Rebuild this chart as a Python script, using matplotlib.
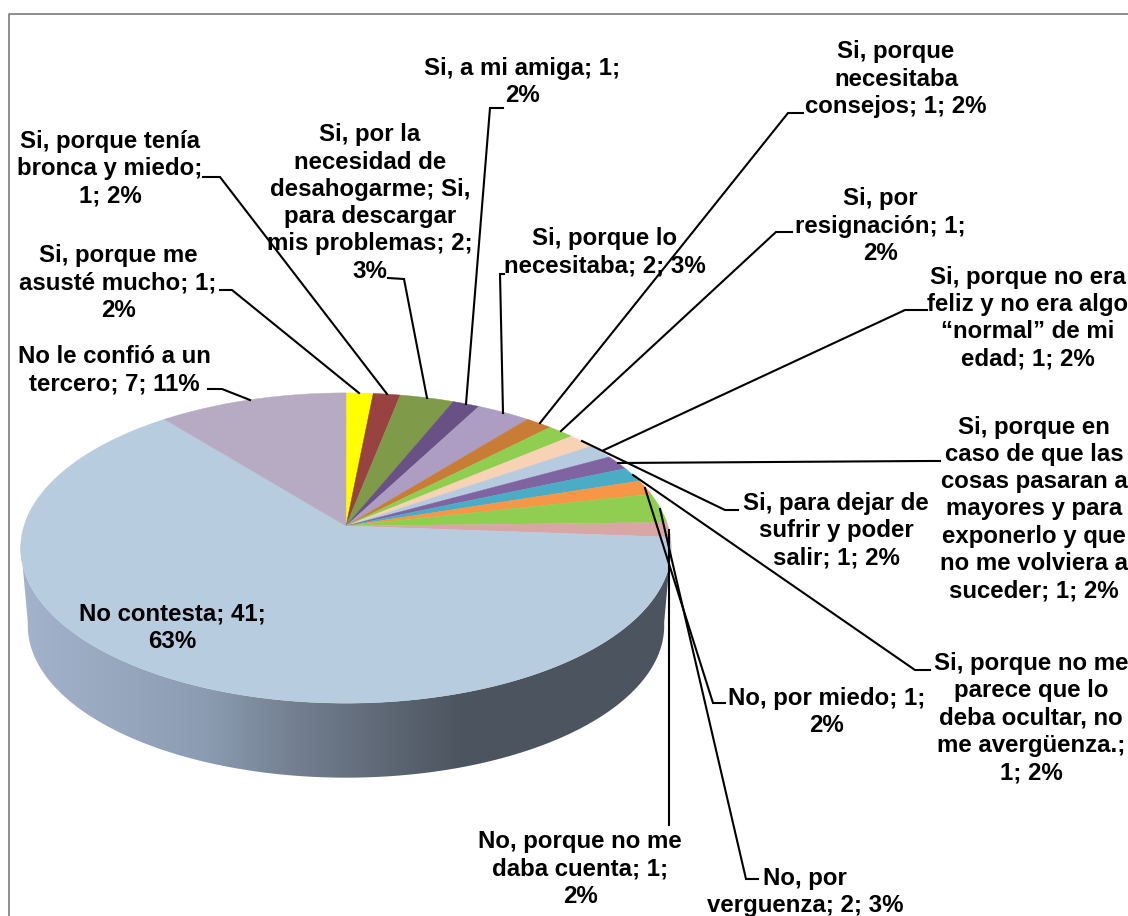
import numpy as np
import matplotlib
matplotlib.use('Agg')
import matplotlib.pyplot as plt
from matplotlib.colors import LinearSegmentedColormap
from matplotlib.patches import Polygon

plt.rcParams['font.family'] = ['Liberation Sans', 'DejaVu Sans']

# slices, clockwise from the top
labels = [
    'Si, porque me\nasusté mucho; 1;\n2%',
    'Si, porque tenía\nbronca y miedo;\n1; 2%',
    'Si, por la\nnecesidad de\ndesahogarme; Si,\npara descargar\nmis problemas; 2;\n3%',
    'Si, a mi amiga; 1;\n2%',
    'Si, porque lo\nnecesitaba; 2; 3%',
    'Si, porque\nnecesitaba\nconsejos; 1; 2%',
    'Si, por\nresignación; 1;\n2%',
    'Si, porque no era\nfeliz y no era algo\n“normal” de mi\nedad; 1; 2%',
    'Si, porque en\ncaso de que las\ncosas pasaran a\nmayores y para\nexponerlo y que\nno me volviera a\nsuceder; 1; 2%',
    'Si, para dejar de\nsufrir y poder\nsalir; 1; 2%',
    'Si, porque no me\nparece que lo\ndeba ocultar, no\nme avergüenza.;\n1; 2%',
    'No, por miedo; 1;\n2%',
    'No, por\nverguenza; 2; 3%',
    'No, porque no me\ndaba cuenta; 1;\n2%',
    'No contesta; 41;\n63%',
    'No le confió a un\ntercero; 7; 11%',
]
values = [1, 1, 2, 1, 2, 1, 1, 1, 1, 1, 1, 1, 2, 1, 41, 7]
colors = ['#ffff00', '#984341', '#7f9a48', '#695185', '#ae9dc2', '#c97c36',
          '#8fce50', '#f8d2b5', '#b7cbe0', '#8064a2', '#4bacc6', '#f79646',
          '#8fce50', '#d9a6a6', '#b8cce0', '#b7abc4']

# label centres in pixels
label_pos = [(118, 283), (110, 169), (370, 203), (522, 82), (605, 252), (896, 79),
             (880, 226), (1028, 318), (1034, 509), (836, 531), (1031, 718),
             (827, 712), (805, 892), (580, 869), (172, 628), (114, 370)]

# leader lines, pixels, same order (No contesta has none)
leaders = [
    [(220, 290), (232, 290), (359, 393)],
    [(203, 177), (220, 177), (387, 394)],
    [(388, 278), (404, 279), (427, 398)],
    [(503, 108), (490, 108), (466, 404)],
    [(504, 274), (500, 274), (503, 413)],
    [(803, 113), (788, 113), (540, 423)],
    [(792, 232), (776, 232), (561, 431)],
    [(927, 310), (905, 310), (604, 450)],
    [(940, 461), (925, 461), (618, 463)],
    [(738, 510), (725, 510), (582, 441)],
    [(930, 670), (915, 670), (633, 475)],
    [(725, 703), (713, 703), (645, 488)],
    [(758, 879), (746, 879), (660, 509)],
    [(669, 825), (669, 530)],
    None,
    [(208, 389), (222, 389), (250, 400)],
]

CX, CY = 346, 526
A, B, K = 322, 152, 0.142
CY_LOW, A_LOW, B_LOW = 604, 315, 149


def project(theta, cy=CY, a=A, b=B):
    # perspective view of the pie plane, theta clockwise from top
    x = np.sin(theta)
    y = np.cos(theta)
    w = 1 + K * y
    return CX + a * x / w, cy - b * y / w


fig = plt.figure(figsize=(11.28, 9.16), dpi=100)
ax = fig.add_axes([0, 0, 1, 1])

# wall of the pie, shaded left to right
th = np.radians(np.linspace(97, 263, 200))
x_top, y_top = project(th)
x_low, y_low = project(th[::-1], CY_LOW, A_LOW, B_LOW)
wall = Polygon(np.column_stack([np.r_[x_top, x_low], np.r_[y_top, y_low]]),
               closed=True, fc='none', ec='none')
ax.add_patch(wall)
wall_cmap = LinearSegmentedColormap.from_list(
    'wall', [(0, '#a2b3cb'), (0.28, '#8c9db3'), (0.45, '#6f7a8b'),
             (0.68, '#4c555f'), (1, '#4c555f')])
grad = ax.imshow(np.linspace(0, 1, 256)[None, :], cmap=wall_cmap, aspect='auto',
                 extent=(20, 670, 790, 540), interpolation='bilinear')
grad.set_clip_path(wall)

# top face
frac = np.cumsum([0] + values) / sum(values)
for i, col in enumerate(colors):
    n = max(int(values[i]) * 8, 8)
    t = 2 * np.pi * np.linspace(frac[i], frac[i + 1], n)
    px, py = project(t)
    ax.fill(np.r_[CX, px], np.r_[CY, py], fc=col, ec=col, lw=0.3, zorder=3)

for line in leaders:
    if line is None:
        continue
    xs, ys = zip(*line)
    ax.plot(xs, ys, color='black', lw=1.5, zorder=4, solid_joinstyle='miter')

for lab, (lx, ly) in zip(labels, label_pos):
    ax.text(lx, ly, lab, ha='center', va='center', fontsize=17.3, fontweight='bold',
            color='black', linespacing=1.24, zorder=5)

# chart frame, only top and left fall inside the picture
ax.plot([1128, 9, 9], [13.5, 13.5, 916], color='#868686', lw=1.3, zorder=1)

ax.set_xlim(0, 1128)
ax.set_ylim(916, 0)
ax.axis('off')

fig.savefig('out.png', dpi=100, facecolor='white')
